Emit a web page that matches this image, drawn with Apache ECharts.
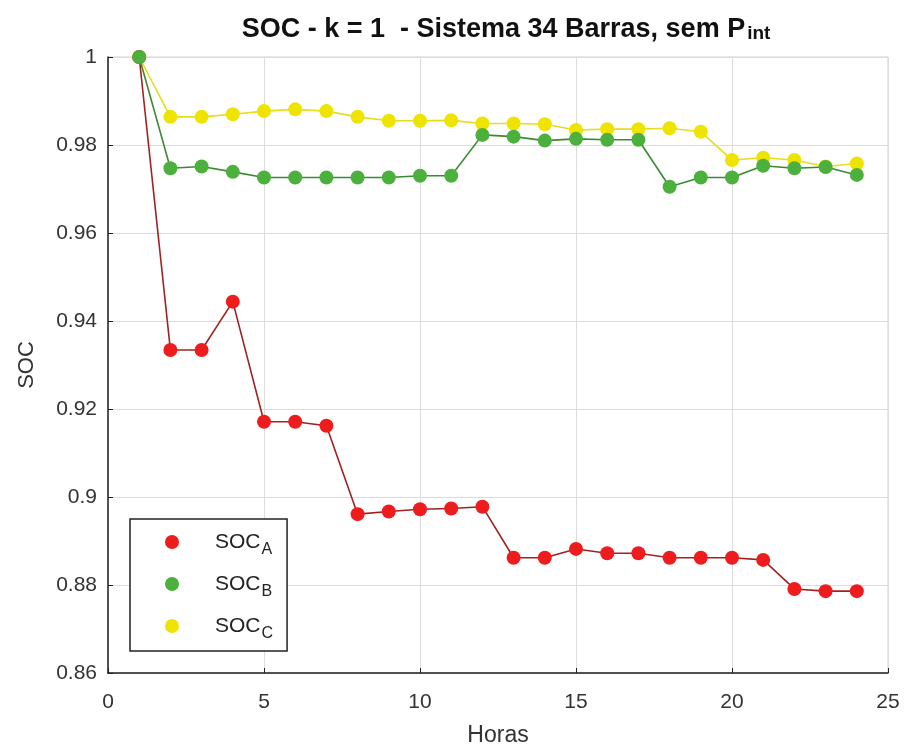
<!DOCTYPE html>
<html>
<head>
<meta charset="utf-8">
<script src="https://cdn.jsdelivr.net/npm/echarts@6/dist/echarts.min.js"></script>
<style>
  html, body { margin: 0; padding: 0; background: #fff; }
  #chart { width: 908px; height: 752px; }
</style>
</head>
<body>
<div id="chart"></div>
<script>
// Hours 1..24
const horas = [1,2,3,4,5,6,7,8,9,10,11,12,13,14,15,16,17,18,19,20,21,22,23,24];

// State of charge per phase
const socA = [1.0000, 0.9334, 0.9334, 0.9444, 0.9171, 0.9171, 0.9162, 0.8961, 0.8967, 0.8972, 0.8974, 0.8978,
              0.8862, 0.8862, 0.8882, 0.8872, 0.8872, 0.8862, 0.8862, 0.8862, 0.8857, 0.8791, 0.8786, 0.8786];
const socB = [1.0000, 0.9747, 0.9751, 0.9739, 0.9726, 0.9726, 0.9726, 0.9726, 0.9726, 0.9730, 0.9730, 0.9823,
              0.9819, 0.9810, 0.9814, 0.9812, 0.9812, 0.9705, 0.9726, 0.9726, 0.9753, 0.9747, 0.9750, 0.9732];
const socC = [1.0000, 0.9864, 0.9864, 0.9870, 0.9877, 0.9881, 0.9877, 0.9864, 0.9855, 0.9855, 0.9856, 0.9849,
              0.9849, 0.9847, 0.9834, 0.9836, 0.9836, 0.9838, 0.9830, 0.9766, 0.9771, 0.9766, 0.9751, 0.9758];

const seriesNames = ['SOC_A', 'SOC_B', 'SOC_C'];
const yTicks = { min: 0.86, max: 1, step: 0.02 };
const xTicks = { min: 0, max: 25, step: 5 };

const pairs = v => horas.map((h, i) => [h, v[i]]);

const font = '"Liberation Sans", Arial, sans-serif';

const chart = echarts.init(document.getElementById('chart'));

function lineSeries(name, data, markColor, lineColor, z) {
  return {
    name: name,
    type: 'line',
    data: pairs(data),
    symbol: 'circle',
    symbolSize: 14,
    z: z,
    itemStyle: { color: markColor, borderColor: markColor, borderWidth: 0 },
    lineStyle: { color: lineColor, width: 1.6 },
    emphasis: { disabled: true },
    animation: false
  };
}

chart.setOption({
  backgroundColor: '#ffffff',
  animation: false,
  title: {
    text: '{a|SOC - k = 1  - Sistema 34 Barras, sem P}{s|int}',
    left: 501,
    textAlign: 'center',
    top: 6,
    textStyle: {
      rich: {
        a: { fontFamily: font, fontSize: 27, fontWeight: 'bold', color: '#111', verticalAlign: 'bottom', lineHeight: 32 },
        s: { fontFamily: font, fontSize: 19, fontWeight: 'bold', color: '#111', padding: [15, 0, 0, 2], verticalAlign: 'bottom', lineHeight: 32 }
      }
    }
  },
  grid: {
    left: 108, top: 57, right: 20, bottom: 79,
    show: true, borderColor: '#d0d0d0', borderWidth: 1
  },
  legend: {
    orient: 'vertical',
    left: 130, top: 519,
    padding: [7, 14, 9, 35],
    itemGap: 10,
    itemWidth: 14, itemHeight: 14,
    borderColor: '#222', borderWidth: 1.5,
    backgroundColor: '#fff',
    icon: 'circle',
    data: seriesNames,
    formatter: name => '{b|SOC}{s|' + name.split('_')[1] + '}',
    textStyle: {
      padding: [0, 0, 0, 31],
      rich: {
        b: { fontFamily: font, fontSize: 21, color: '#222', lineHeight: 26 },
        s: { fontFamily: font, fontSize: 16, color: '#222', padding: [16, 0, 0, 1], lineHeight: 26 }
      }
    }
  },
  xAxis: {
    type: 'value',
    min: xTicks.min, max: xTicks.max, interval: xTicks.step,
    name: 'Horas',
    nameLocation: 'middle',
    nameGap: 51,
    nameTextStyle: { fontFamily: font, fontSize: 23, color: '#333' },
    axisLine: { show: true, onZero: false, lineStyle: { color: '#222', width: 1.5 } },
    axisTick: { show: true, inside: true, length: 5, lineStyle: { color: '#222' } },
    axisLabel: { fontFamily: font, fontSize: 21, color: '#333', margin: 19 },
    splitLine: { show: true, lineStyle: { color: '#dcdcdc', width: 1 } }
  },
  yAxis: {
    type: 'value',
    min: yTicks.min, max: yTicks.max, interval: yTicks.step,
    name: 'SOC',
    nameLocation: 'middle',
    nameGap: 70,
    nameTextStyle: { fontFamily: font, fontSize: 22, color: '#333' },
    axisLine: { show: true, lineStyle: { color: '#222', width: 1.5 } },
    axisTick: { show: true, inside: true, length: 5, lineStyle: { color: '#222' } },
    axisLabel: {
      fontFamily: font, fontSize: 21, color: '#333', margin: 11,
      padding: [6, 0, 0, 0],
      formatter: v => String(Math.round(v * 100) / 100)
    },
    splitLine: { show: true, lineStyle: { color: '#dcdcdc', width: 1 } }
  },
  series: [
    lineSeries(seriesNames[0], socA, '#ee1c1c', '#a0221e', 3),
    lineSeries(seriesNames[1], socB, '#4cb03c', '#3a8a34', 4),
    lineSeries(seriesNames[2], socC, '#efe400', '#e6dc20', 2)
  ]
});
</script>
</body>
</html>
